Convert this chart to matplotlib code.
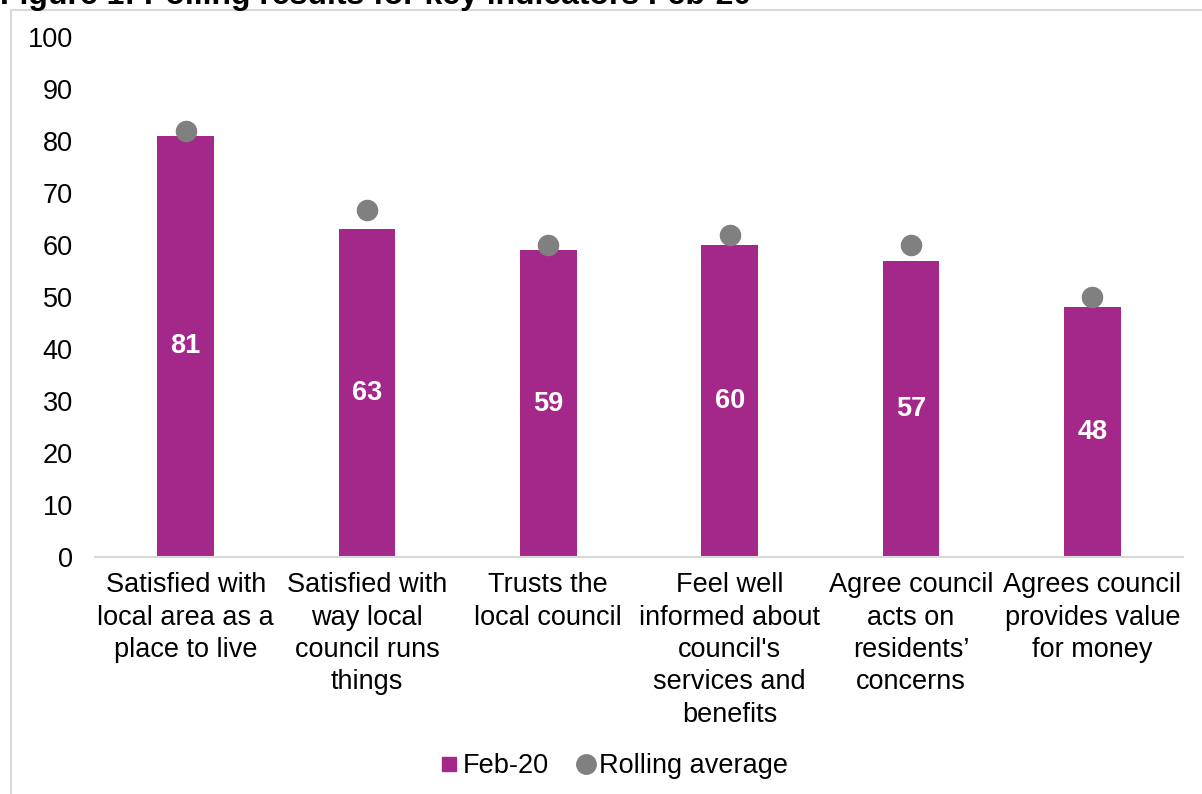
import numpy as np
import matplotlib.pyplot as plt
from matplotlib.patches import Rectangle

categories = [
    "Satisfied with\nlocal area as a\nplace to live",
    "Satisfied with\nway local\ncouncil runs\nthings",
    "Trusts the\nlocal council",
    "Feel well\ninformed about\ncouncil's\nservices and\nbenefits",
    "Agree council\nacts on\nresidents\u2019\nconcerns",
    "Agrees council\nprovides value\nfor money",
]
feb20 = [81, 63, 59, 60, 57, 48]
rolling_avg = [82, 66.7, 60, 62, 60, 50]
y_ticks = list(range(0, 101, 10))

BAR_COLOR = "#A4278A"
DOT_COLOR = "#808080"
FS = 19.5

plt.rcParams['font.family'] = ['Liberation Sans', 'DejaVu Sans']

W, H = 1202, 794
fig = plt.figure(figsize=(W / 100, H / 100), dpi=100)

# outer chart frame (only top and left edges visible)
fig.patches.append(Rectangle((11 / W, -0.1), 1.2, 1 - 10 / H + 0.1,
                             transform=fig.transFigure, fill=False,
                             edgecolor="#d9d9d9", linewidth=1.5))

# title, mostly cut off at top
fig.text(0.0, 1 - 4 / H, "Figure 1: Polling results for key indicators Feb-20",
         fontsize=23, fontweight="bold", va="baseline", ha="left")

ax = fig.add_axes([95 / W, 1 - 557 / H, (1183 - 95) / W, (557 - 37) / H])
x = np.arange(len(categories))
ax.bar(x, feb20, width=0.314, color=BAR_COLOR, label="Feb-20", zorder=2)
ax.scatter(x, rolling_avg, s=210, color=DOT_COLOR, label="Rolling average", zorder=3)

for xi, v in zip(x, feb20):
    ax.text(xi, v / 2, str(v), ha="center", va="center", color="white",
            fontsize=FS, fontweight="bold")

ax.set_xlim(-0.5, len(categories) - 0.5)
ax.set_ylim(0, 100)
ax.set_yticks(y_ticks)
ax.set_xticks(x)
ax.set_xticklabels(categories, fontsize=FS, linespacing=1.32, va="top")
ax.tick_params(axis="y", length=0, labelsize=FS, pad=16)
ax.tick_params(axis="x", length=0, pad=11)
for s in ["top", "right", "left"]:
    ax.spines[s].set_visible(False)
ax.spines["bottom"].set_color("#d9d9d9")
ax.spines["bottom"].set_linewidth(1.5)

fig.legend(handles=[
    plt.Line2D([], [], marker="s", linestyle="", color=BAR_COLOR, markersize=10),
    plt.Line2D([], [], marker="o", linestyle="", color=DOT_COLOR, markersize=14),
], labels=["Feb-20", "Rolling average"], loc="center", ncol=2,
    bbox_to_anchor=(614 / W, 1 - 766 / H), frameon=False, fontsize=FS,
    handletextpad=0.15, columnspacing=1.0, handlelength=0.7)

fig.savefig("out.png", dpi=100)
